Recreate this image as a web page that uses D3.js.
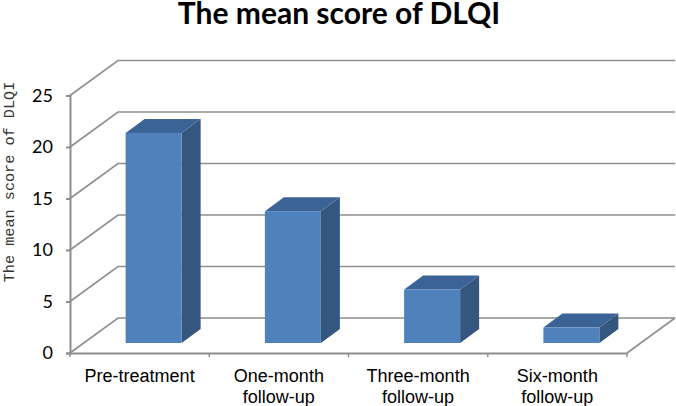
<!DOCTYPE html>
<html>
<head>
<meta charset="utf-8">
<script src="https://cdn.jsdelivr.net/npm/d3@7"></script>
<style>
  html, body { margin: 0; padding: 0; background: #fff; }
  svg { display: block; }
</style>
</head>
<body>
<svg id="chart" width="676" height="406"></svg>
<script>
var categories = [["Pre-treatment"], ["One-month", "follow-up"], ["Three-month", "follow-up"], ["Six-month", "follow-up"]];
var scores = [20.4, 12.8, 5.2, 1.5];
var yTicks = [0, 5, 10, 15, 20, 25];

var left = 70, right = 627, bottom = 353, top_ = 95.5;
var depthX = 48, depthY = 35;      // floor depth of the 3d box
var barInX = 14, barInY = 10;      // how far the bar front sits behind the axis plane
var barDepthX = 19, barDepthY = 14;
var barWidth = 56;

var gridColor = "#8e8e8e";

var svg = d3.select("#chart");

var y_scale = d3.scaleLinear().domain([0, 25]).range([bottom, top_]);
var x_scale = d3.scaleBand().domain(d3.range(categories.length)).range([left, right]);

svg.append("text")
   .attr("x", 339)
   .attr("y", 24)
   .attr("text-anchor", "middle")
   .attr("font-family", "Lato")
   .attr("font-weight", "bold")
   .attr("font-size", "30px")
   .text("The mean score of DLQI");

// back wall and side wall lines
var grid = svg.append("g");
yTicks.forEach(function (t) {
    var y = y_scale(t);
    grid.append("polyline")
        .attr("points", [[left, y], [left + depthX, y - depthY], [right + depthX, y - depthY]].join(" "))
        .attr("fill", "none")
        .attr("stroke", gridColor)
        .attr("stroke-width", 1.6);
});
grid.append("line")
    .attr("x1", right).attr("y1", bottom)
    .attr("x2", right + depthX).attr("y2", bottom - depthY)
    .attr("stroke", gridColor)
    .attr("stroke-width", 1.6);

// axes
var yAxis = svg.append("g")
   .attr("transform", "translate(" + left + ",0)")
   .call(d3.axisLeft(y_scale).tickValues(yTicks).tickSize(4).tickPadding(13));
yAxis.selectAll("path, line").attr("stroke", gridColor).attr("stroke-width", 2);
yAxis.selectAll("text")
   .attr("font-family", "Lato")
   .attr("font-size", "18px")
   .attr("fill", "#000");

var xAxis = svg.append("g")
   .attr("transform", "translate(0," + bottom + ")")
   .call(d3.axisBottom(x_scale).tickValues([]).tickSize(0));
xAxis.select("path").attr("stroke", gridColor).attr("stroke-width", 2);
xAxis.selectAll(".sep")
   .data(d3.range(categories.length + 1))
   .enter()
   .append("line")
   .attr("class", "sep")
   .attr("x1", function (d) { return left + d * x_scale.bandwidth(); })
   .attr("x2", function (d) { return left + d * x_scale.bandwidth(); })
   .attr("y1", 0)
   .attr("y2", 4)
   .attr("stroke", gridColor)
   .attr("stroke-width", 1.5);

// bars
var bars = svg.append("g").selectAll("g")
   .data(scores)
   .enter()
   .append("g");

function frontX(i) { return x_scale(i) + x_scale.bandwidth() / 2 - barWidth / 2 + barInX; }
function topY(d) { return y_scale(d) - barInY; }
var baseY = y_scale(0) - barInY;

bars.append("polygon")
   .attr("fill", "#34567f")
   .attr("points", function (d, i) {
       var x = frontX(i) + barWidth;
       return [[x, topY(d)], [x + barDepthX, topY(d) - barDepthY], [x + barDepthX, baseY - barDepthY], [x, baseY]].join(" ");
   });
bars.append("polygon")
   .attr("fill", "#3b6396")
   .attr("points", function (d, i) {
       var x = frontX(i);
       return [[x, topY(d)], [x + barDepthX, topY(d) - barDepthY], [x + barWidth + barDepthX, topY(d) - barDepthY], [x + barWidth, topY(d)]].join(" ");
   });
bars.append("rect")
   .attr("fill", "#4f81bd")
   .attr("x", function (d, i) { return frontX(i); })
   .attr("y", function (d) { return topY(d); })
   .attr("width", barWidth)
   .attr("height", function (d) { return baseY - topY(d); });

// category labels
var labels = svg.append("g").selectAll("text")
   .data(categories)
   .enter()
   .append("text")
   .attr("text-anchor", "middle")
   .attr("font-family", "'Liberation Sans'")
   .attr("font-size", "18px")
   .attr("fill", "#000");
labels.each(function (lines, i) {
    d3.select(this).selectAll("tspan")
      .data(lines)
      .enter()
      .append("tspan")
      .attr("x", x_scale(i) + x_scale.bandwidth() / 2)
      .attr("y", function (l, k) { return 381.5 + k * 21; })
      .text(function (l) { return l; });
});

svg.append("text")
   .attr("transform", "translate(14,182) rotate(-90)")
   .attr("text-anchor", "middle")
   .attr("font-family", "'Liberation Mono'")
   .attr("font-size", "15.2px")
   .attr("fill", "#333")
   .text("The mean score of DLQI");
</script>
</body>
</html>
